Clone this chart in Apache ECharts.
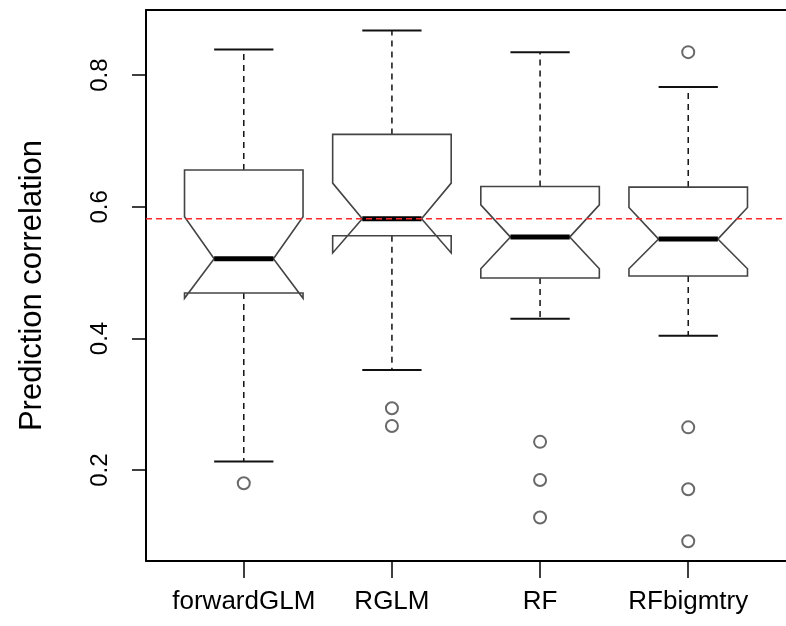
<!DOCTYPE html>
<html>
<head>
<meta charset="utf-8">
<script src="https://cdn.jsdelivr.net/npm/echarts@6/dist/echarts.min.js"></script>
<style>
html,body{margin:0;padding:0;background:#fff;}
#chart{width:786px;height:626px;}
</style>
</head>
<body>
<div id="chart"></div>
<script>
const categories = ['forwardGLM', 'RGLM', 'RF', 'RFbigmtry'];
const whiskerLow  = [0.213, 0.352, 0.430, 0.404];
const q1          = [0.469, 0.556, 0.492, 0.495];
const notchLow    = [0.461, 0.530, 0.506, 0.506];
const median      = [0.521, 0.582, 0.554, 0.551];
const notchHigh   = [0.585, 0.636, 0.603, 0.599];
const q3          = [0.656, 0.710, 0.631, 0.630];
const whiskerHigh = [0.839, 0.868, 0.835, 0.782];
const outliers = [
  [0.180],
  [0.294, 0.267],
  [0.243, 0.185, 0.128],
  [0.835, 0.265, 0.171, 0.092]
];
const referenceValue = 0.582;
const yTicks = [0.2, 0.4, 0.6, 0.8];
const xTicks = [1, 2, 3, 4];

const boxData = categories.map((c, i) => [i + 1, whiskerLow[i], q1[i], notchLow[i], median[i], notchHigh[i], q3[i], whiskerHigh[i]]);
const outlierData = [];
outliers.forEach((arr, i) => arr.forEach(v => outlierData.push([i + 1, v])));

const BOX_HALF = 0.4;
const BOX_STROKE = '#444';

function renderBox(params, api) {
  const x = api.value(0);
  const wl = api.value(1), lq = api.value(2), nl = api.value(3), md = api.value(4),
        nh = api.value(5), uq = api.value(6), wh = api.value(7);
  const w = BOX_HALF;
  const P = (xx, yy) => api.coord([xx, yy]);
  const pts = [
    P(x - w, lq), P(x - w, nl), P(x - w / 2, md), P(x - w, nh), P(x - w, uq),
    P(x + w, uq), P(x + w, nh), P(x + w / 2, md), P(x + w, nl), P(x + w, lq)
  ];
  const line = (a, b, style) => ({
    type: 'line',
    shape: { x1: a[0], y1: a[1], x2: b[0], y2: b[1] },
    style: style
  });
  const dashed = { stroke: '#111', lineWidth: 1.5, lineDash: [6, 5] };
  const solid = { stroke: '#111', lineWidth: 2 };
  return {
    type: 'group',
    children: [
      line(P(x, uq), P(x, wh), dashed),
      line(P(x, lq), P(x, wl), dashed),
      line(P(x - w / 2, wh), P(x + w / 2, wh), solid),
      line(P(x - w / 2, wl), P(x + w / 2, wl), solid),
      { type: 'polygon', shape: { points: pts }, style: { fill: 'none', stroke: BOX_STROKE, lineWidth: 1.6 } },
      line(P(x - w / 2, md), P(x + w / 2, md), { stroke: '#000', lineWidth: 5 })
    ]
  };
}

const chart = echarts.init(document.getElementById('chart'), null, { renderer: 'canvas' });
const FONT = 'Liberation Sans, Arial, sans-serif';
chart.setOption({
  animation: false,
  backgroundColor: '#fff',
  grid: { left: 146, top: 10, width: 641, height: 551 },
  xAxis: [{
    type: 'value', min: 0.34, max: 4.66, position: 'bottom',
    splitLine: { show: false },
    axisLine: { show: true, onZero: false, lineStyle: { color: '#000', width: 2 } },
    axisTick: { show: true, customValues: xTicks, length: 17, lineStyle: { color: '#000', width: 1.5 } },
    axisLabel: {
      customValues: xTicks,
      formatter: v => categories[Math.round(v) - 1],
      fontSize: 26, color: '#000', margin: 28, fontFamily: FONT
    }
  }, {
    type: 'value', min: 0.34, max: 4.66, position: 'top',
    splitLine: { show: false },
    axisLine: { show: true, onZero: false, lineStyle: { color: '#000', width: 2 } },
    axisTick: { show: false },
    axisLabel: { show: false }
  }],
  yAxis: {
    type: 'value', min: 0.062, max: 0.899,
    splitLine: { show: false },
    axisLine: { show: true, lineStyle: { color: '#000', width: 2 } },
    axisTick: { show: true, customValues: yTicks, length: 14, lineStyle: { color: '#000', width: 1.5 } },
    axisLabel: {
      customValues: yTicks, rotate: 90,
      formatter: v => v.toFixed(1),
      fontSize: 24, color: '#000', margin: 34, fontFamily: FONT
    },
    name: 'Prediction correlation',
    nameLocation: 'middle', nameRotate: 90, nameGap: 98,
    nameTextStyle: { fontSize: 31, color: '#000', fontFamily: FONT }
  },
  series: [
    {
      type: 'custom',
      renderItem: renderBox,
      data: boxData,
      encode: { x: 0, y: [1, 2, 3, 4, 5, 6, 7] },
      z: 2
    },
    {
      type: 'scatter',
      data: outlierData,
      symbol: 'emptyCircle',
      symbolSize: 12,
      itemStyle: { color: '#444', borderColor: '#444', borderWidth: 1.6 },
      z: 3
    },
    {
      type: 'line',
      data: [[0.34, referenceValue], [4.66, referenceValue]],
      symbol: 'none',
      lineStyle: { color: '#ff2a2a', width: 1.5, type: [6, 4] },
      z: 5
    }
  ]
});
</script>
</body>
</html>
